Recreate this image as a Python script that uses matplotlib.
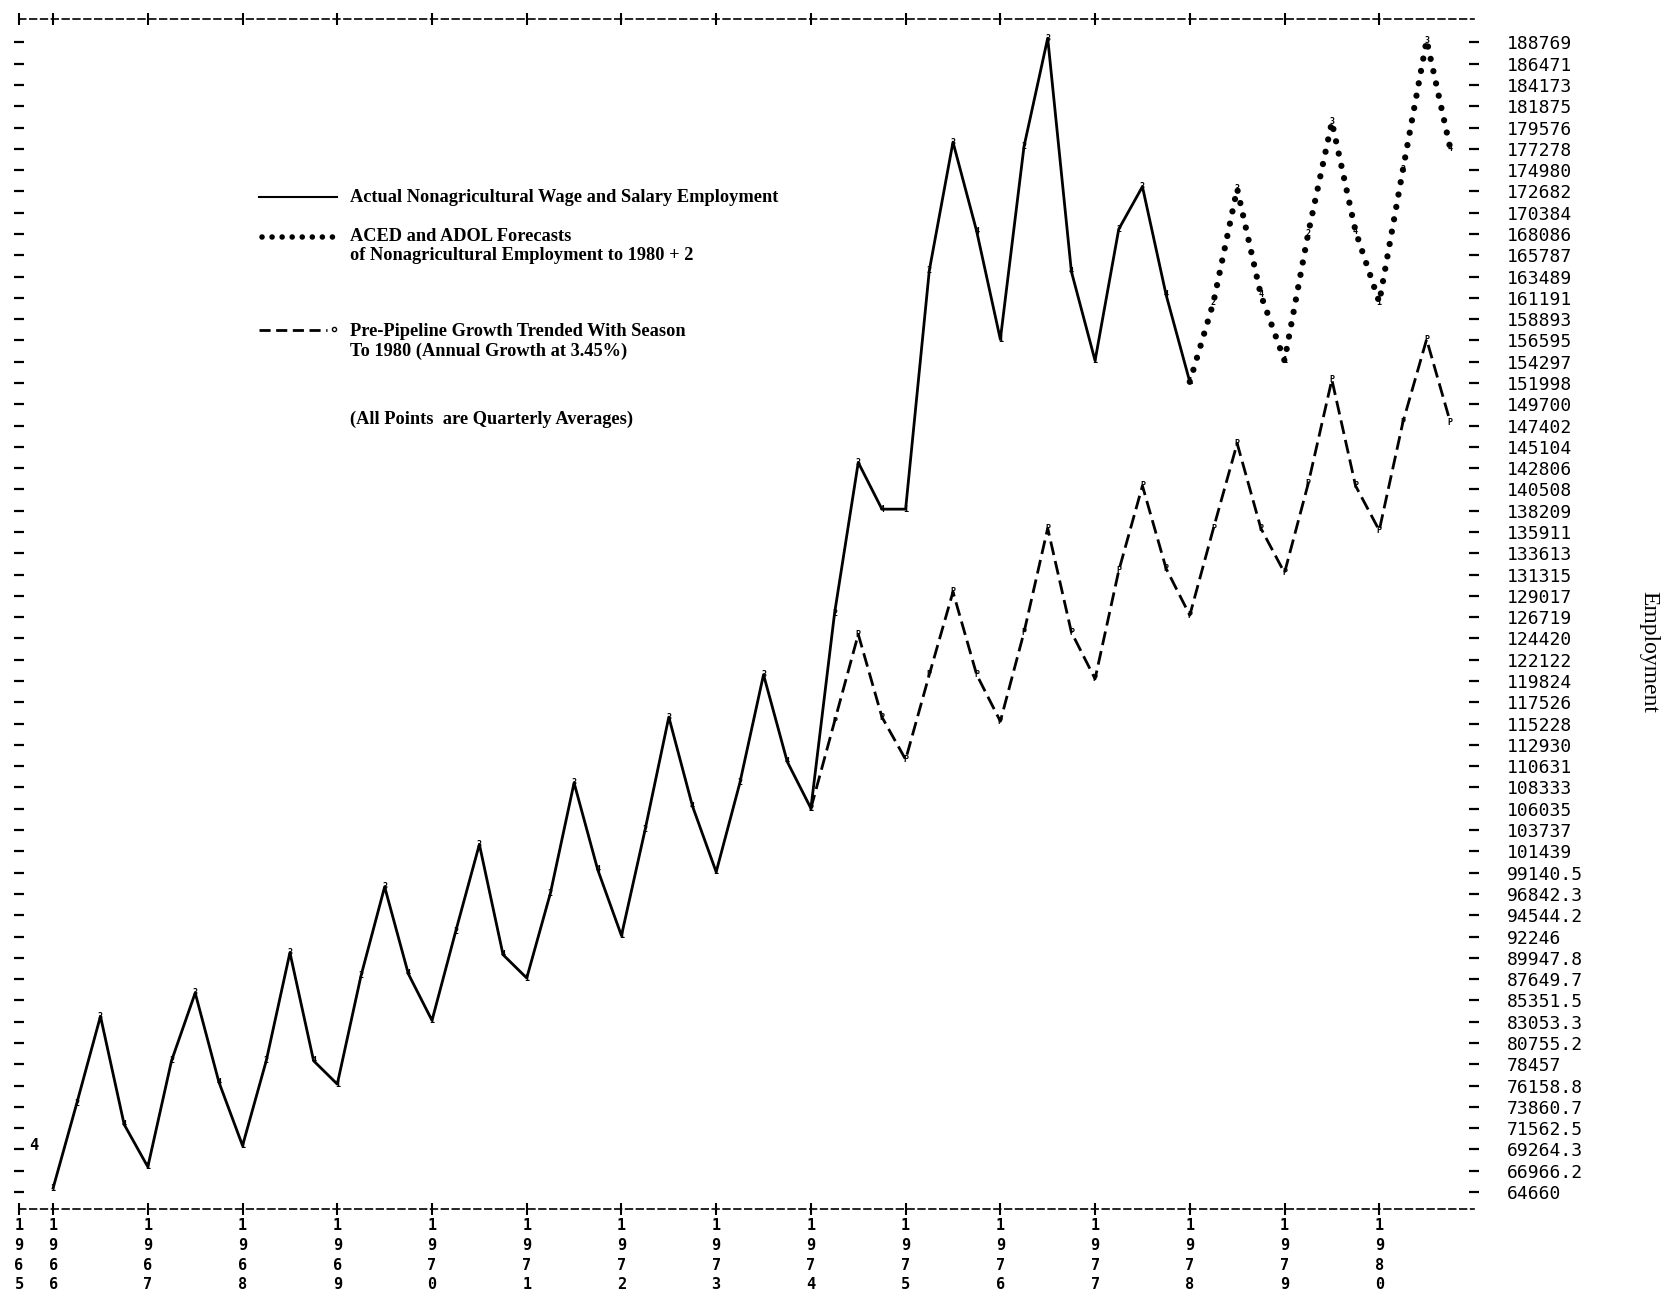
import numpy as np
import matplotlib.pyplot as plt

# quarterly values (Q1 1966 onwards)
actual = [65087, 74249, 83640, 71959,
          67378, 78830, 86159, 76539,
          69668, 78830, 90511, 78830,
          76310, 87991, 97611, 88220,
          83182, 92801, 102192, 90282,
          87762, 96924, 108834, 99443,
          92343, 103795, 115934, 106315,
          99214, 108834, 120515, 111124,
          106086, 127157, 143419, 138380,
          138380, 164147, 178004, 168384,
          156703, 177546, 189227, 164033,
          154413, 168613, 173194, 161513,
          152123]
actual_start = 1966.0

# ACED / ADOL forecast, from Q1 1978
forecast = [152123, 160712, 172965, 161513,
            154413, 168155, 180180, 168384,
            160712, 175027, 188998, 177317]
forecast_start = 1978.0

# pre-pipeline trend with season, from Q1 1974
pipeline = [106086, 115476, 124867, 115934,
            111353, 120515, 129448, 120515,
            115476, 125096, 136319, 125096,
            120057, 131738, 140900, 131967,
            126928, 136319, 145480, 136319,
            131509, 141129, 152352, 140900,
            136090, 147771, 156703, 147771]
pipeline_start = 1974.0

# lone Q4 1965 point at the left edge
q4_1965 = 69668

ytick_labels = ['188769', '186471', '184173', '181875', '179576', '177278',
                '174980', '172682', '170384', '168086', '165787', '163489',
                '161191', '158893', '156595', '154297', '151998', '149700',
                '147402', '145104', '142806', '140508', '138209', '135911',
                '133613', '131315', '129017', '126719', '124420', '122122',
                '119824', '117526', '115228', '112930', '110631', '108333',
                '106035', '103737', '101439', '99140.5', '96842.3', '94544.2',
                '92246', '89947.8', '87649.7', '85351.5', '83053.3', '80755.2',
                '78457', '76158.8', '73860.7', '71562.5', '69264.3', '66966.2',
                '64660']
year_labels = ['1965', '1966', '1967', '1968', '1969', '1970', '1971', '1972',
               '1973', '1974', '1975', '1976', '1977', '1978', '1979', '1980']

x_left, x_right = 1965.64, 1981.0

x_act = actual_start + np.arange(len(actual)) * 0.25
x_fc = forecast_start + np.arange(len(forecast)) * 0.25
x_pp = pipeline_start + np.arange(len(pipeline)) * 0.25

fig = plt.figure(figsize=(16.63, 13.07), dpi=100)
ax = fig.add_axes([0.01143, 0.07498, 0.8749, 0.9105])

ax.plot(x_act, actual, color='black', lw=2.0)
ax.plot(x_fc, forecast, color='black', lw=4.5, linestyle=(0, (0.01, 2.0)),
        dash_capstyle='round')
ax.plot(x_pp, pipeline, color='black', lw=2.0, linestyle=(0, (5, 2.2)))

# printer plot symbols at the vertices
lab = dict(fontsize=6, ha='center', va='center', fontweight='bold',
           family='DejaVu Sans Mono', color='black')
for i, v in enumerate(actual):
    ax.text(x_act[i], v, str(i % 4 + 1), **lab)
for i, v in enumerate(forecast):
    ax.text(x_fc[i], v, str(i % 4 + 1), **lab)
for i, v in enumerate(pipeline):
    ax.text(x_pp[i], v, 'P', **lab)
ax.text(1965.75, q4_1965, '4', fontsize=11, ha='left', va='center',
        fontweight='bold', family='DejaVu Sans Mono')

ax.set_xlim(x_left, x_right)
ax.set_ylim(62830, 191295)

ax.set_yticks([float(s) for s in ytick_labels])
ax.set_yticklabels(ytick_labels)
ax.tick_params(axis='y', left=True, right=True, labelleft=False, labelright=True,
               direction='inout', length=7, width=1.6, pad=20, labelsize=13)
for t in ax.get_yticklabels():
    t.set_fontfamily('DejaVu Sans Mono')

ax.set_xticks([x_left] + list(range(1966, 1981)))
ax.set_xticklabels(['\n'.join(s) for s in year_labels])
ax.tick_params(axis='x', top=True, bottom=True, direction='inout', length=9,
               width=1.5, pad=2)
for t in ax.get_xticklabels():
    t.set_fontfamily('DejaVu Sans Mono')
    t.set_fontweight('bold')
    t.set_fontsize(11)
    t.set_linespacing(1.4)

for s in ['left', 'right']:
    ax.spines[s].set_visible(False)
for s in ['top', 'bottom']:
    ax.spines[s].set_linestyle((0, (4, 2.5)))
    ax.spines[s].set_linewidth(1.2)

# hand-drawn legend block
tf = ax.transAxes
txt = dict(fontsize=13.2, fontweight='bold', family='Liberation Serif',
           va='center', ha='left', transform=tf)
ax.plot([0.165, 0.2186], [0.8504, 0.8504], color='black', lw=1.5, transform=tf)
ax.text(0.2275, 0.8504, 'Actual Nonagricultural Wage and Salary Employment', **txt)

ax.plot([0.167, 0.2186], [0.8172, 0.8172], color='black', lw=4, transform=tf,
        linestyle=(0, (0.01, 1.8)), dash_capstyle='round')
ax.text(0.2275, 0.8172, 'ACED and ADOL Forecasts', **txt)
ax.text(0.2275, 0.8012, 'of Nonagricultural Employment to 1980 + 2', **txt)

ax.plot([0.165, 0.2115], [0.7387, 0.7387], color='black', lw=2.0, transform=tf,
        linestyle=(0, (4, 2)))
ax.plot([0.2165], [0.7395], marker='o', ms=3, mfc='white', mec='black',
        transform=tf)
ax.text(0.2275, 0.7370, 'Pre-Pipeline Growth Trended With Season', **txt)
ax.text(0.2275, 0.7210, 'To 1980 (Annual Growth at 3.45%)', **txt)

ax.text(0.2275, 0.6639, '(All Points  are Quarterly Averages)', **txt)

fig.text(0.9917, 0.501, 'Employment', rotation=270, fontsize=17,
         family='Liberation Serif', ha='center', va='center')

fig.savefig('out.png', dpi=100, facecolor='white')
